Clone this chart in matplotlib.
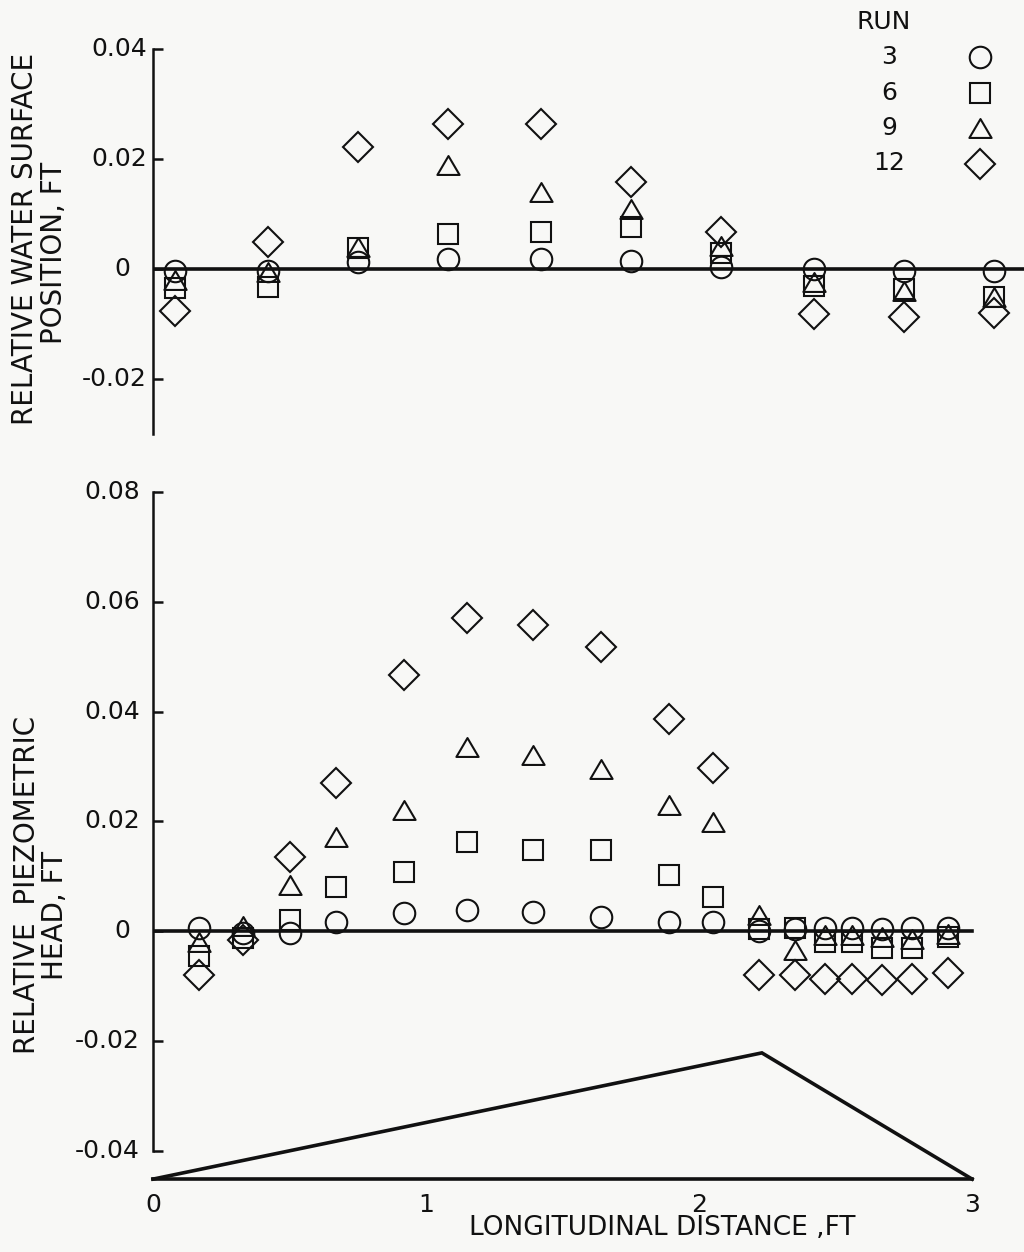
import numpy as np
import matplotlib
matplotlib.use('Agg')
import matplotlib.pyplot as plt
from matplotlib.path import Path

W, H = 1024, 1252

# run labels and the marker each run is plotted with
runs = ['3', '6', '9', '12']

# relative water surface position (ft) at the surface stations
x_surface = [0.08, 0.42, 0.75, 1.08, 1.42, 1.75, 2.08, 2.42, 2.75, 3.08]
surface_run3 = [-0.0003, -0.0003, 0.0012, 0.0018, 0.0018, 0.0015, 0.0004, 0.0, -0.0003, -0.0003]
surface_run6 = [-0.0035, -0.0033, 0.0038, 0.0064, 0.0067, 0.0076, 0.003, -0.003, -0.0036, -0.005]
surface_run9 = [-0.002, -0.0005, 0.004, 0.0189, 0.014, 0.011, 0.0042, -0.0024, -0.004, -0.005]
surface_run12 = [-0.0077, 0.0049, 0.0222, 0.0264, 0.0264, 0.0158, 0.0067, -0.0082, -0.0087, -0.008]

# relative piezometric head (ft) at the bed taps
x_head = [0.17, 0.33, 0.50, 0.67, 0.92, 1.15, 1.39, 1.64, 1.89, 2.05,
          2.22, 2.35, 2.46, 2.56, 2.67, 2.78, 2.91]
head_run3 = [0.0005, -0.0003, -0.0004, 0.0016, 0.0033, 0.0038, 0.0035, 0.0026, 0.0016, 0.0016,
             0.0, 0.0003, 0.0005, 0.0005, 0.0003, 0.0005, 0.0005]
head_run6 = [-0.0045, -0.0012, 0.002, 0.008, 0.0108, 0.0162, 0.0148, 0.0148, 0.0102, 0.0062,
             0.0003, 0.0005, -0.002, -0.002, -0.003, -0.003, -0.001]
head_run9 = [-0.002, 0.001, 0.0084, 0.0171, 0.022, 0.0335, 0.0321, 0.0295, 0.023, 0.0199,
             0.003, -0.0035, -0.0007, -0.0007, -0.001, -0.0015, -0.0005]
head_run12 = [-0.008, -0.0016, 0.0135, 0.027, 0.0467, 0.057, 0.0558, 0.0518, 0.0386, 0.0297,
              -0.008, -0.008, -0.0087, -0.0087, -0.009, -0.0087, -0.0077]

# bed form sketched under the head plot
bed_x = [0, 2.23, 3]
bed_y = [-0.0452, -0.0222, -0.0452]

surface_ticks = [-0.02, 0, 0.02, 0.04]
head_ticks = [-0.04, -0.02, 0, 0.02, 0.04, 0.06, 0.08]
x_ticks = [0, 1, 2, 3]

ink = '#111111'
tri = Path([(-1, -0.85), (1, -0.85), (0, 0.85), (-1, -0.85)], closed=True)
markers = ['o', 's', tri, 'D']
sizes = [15.5, 15, 16, 15]

plt.rcParams['font.family'] = 'DejaVu Sans'


def px_rect(left, top, right, bottom):
    return [left / W, 1 - bottom / H, (right - left) / W, (bottom - top) / H]


def fig_xy(x, y):
    return x / W, 1 - y / H


fig = plt.figure(figsize=(W / 100, H / 100), dpi=100, facecolor='#f8f8f6')

ax1 = fig.add_axes(px_rect(153, 49, 1024, 434))
ax2 = fig.add_axes(px_rect(153, 492, 1024, 1189))

for ax in (ax1, ax2):
    ax.set_facecolor('none')
    for side in ('top', 'right'):
        ax.spines[side].set_visible(False)
    ax.spines['left'].set_linewidth(1.8)
    ax.spines['left'].set_color(ink)
    ax.tick_params(axis='y', direction='in', length=7, width=1.8, color=ink,
                   labelleft=False)
    ax.set_xlim(0, 3.19)

# --- water surface panel ---
ax1.set_ylim(-0.03, 0.04)
ax1.spines['bottom'].set_visible(False)
ax1.set_xticks([])
ax1.set_yticks(surface_ticks)
ax1.axhline(0, color=ink, lw=2.6, zorder=1)

surface = [surface_run3, surface_run6, surface_run9, surface_run12]
for vals, m, ms in zip(surface, markers, sizes):
    ax1.plot(x_surface, vals, ls='none', marker=m, ms=ms, mfc='none', mec=ink, mew=1.5,
             zorder=3)

for t in surface_ticks:
    off = -23 if t == 0 else -6
    lab = '0' if t == 0 else f'{t:.2f}'
    ax1.annotate(lab, (0, t), xytext=(off, 0), textcoords='offset pixels',
                 ha='right', va='center', fontsize=18, color=ink, annotation_clip=False)

# --- piezometric head panel ---
ax2.set_ylim(-0.047, 0.08)
ax2.set_yticks(head_ticks)
ax2.spines['left'].set_bounds(-0.04, 0.08)
ax2.spines['bottom'].set_position(('data', bed_y[0]))
ax2.spines['bottom'].set_bounds(0, 3)
ax2.spines['bottom'].set_linewidth(2.6)
ax2.spines['bottom'].set_color(ink)
ax2.set_xticks(x_ticks)
ax2.set_xticklabels([str(v) for v in x_ticks], fontsize=18, color=ink)
ax2.set_xticks([1, 2], minor=True)
ax2.tick_params(axis='x', which='major', length=0, pad=10)
ax2.tick_params(axis='x', which='minor', direction='in', length=5, width=1.2, color=ink)

ax2.plot([0, 3], [0, 0], color=ink, lw=2.6, zorder=1)
ax2.plot(bed_x, bed_y, color=ink, lw=2.6, clip_on=False, solid_joinstyle='miter')

head = [head_run3, head_run6, head_run9, head_run12]
for vals, m, ms in zip(head, markers, sizes):
    ax2.plot(x_head, vals, ls='none', marker=m, ms=ms, mfc='none', mec=ink, mew=1.5,
             zorder=3)

for t in head_ticks:
    off = -23 if t == 0 else -13
    lab = '0' if t == 0 else f'{t:.2f}'
    ax2.annotate(lab, (0, t), xytext=(off, 0), textcoords='offset pixels',
                 ha='right', va='center', fontsize=18, color=ink, annotation_clip=False)

# axis titles
fig.text(*fig_xy(25, 239), 'RELATIVE WATER SURFACE', rotation=90, ha='center', va='center',
         fontsize=20, color=ink)
fig.text(*fig_xy(54, 253), 'POSITION, FT', rotation=90, ha='center', va='center',
         fontsize=20, color=ink)
fig.text(*fig_xy(27, 885), 'RELATIVE  PIEZOMETRIC', rotation=90, ha='center', va='center',
         fontsize=20, color=ink)
fig.text(*fig_xy(55, 915), 'HEAD, FT', rotation=90, ha='center', va='center',
         fontsize=20, color=ink)
fig.text(*fig_xy(662, 1228), 'LONGITUDINAL DISTANCE ,FT', ha='center', va='center',
         fontsize=19, color=ink)

# run key
fig.text(*fig_xy(884, 22), 'RUN', ha='center', va='center', fontsize=18, color=ink)
for i, (r, m, ms) in enumerate(zip(runs, markers, sizes)):
    y = 57 + 35.5 * i
    fig.text(*fig_xy(889, y), r, ha='center', va='center', fontsize=18, color=ink)
    kx, ky = fig_xy(980, y)
    ax1.plot([kx], [ky], transform=fig.transFigure, marker=m, ms=ms, mfc='none',
             mec=ink, mew=1.5, clip_on=False)

fig.savefig('out.png', dpi=100, facecolor=fig.get_facecolor())
